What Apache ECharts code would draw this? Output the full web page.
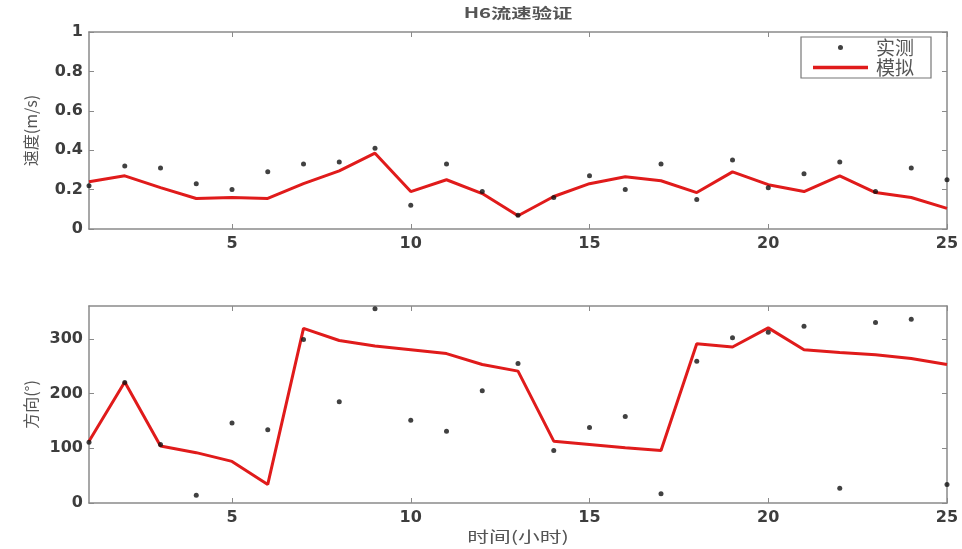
<!DOCTYPE html>
<html>
<head>
<meta charset="utf-8">
<script src="https://cdn.jsdelivr.net/npm/echarts@6/dist/echarts.min.js"></script>
<style>html,body{margin:0;padding:0;background:#fff}#c{width:962px;height:549px}</style>
</head>
<body>
<div id="c"></div>
<script>
const hours = [1,2,3,4,5,6,7,8,9,10,11,12,13,14,15,16,17,18,19,20,21,22,23,24,25];
const speedObs = [0.22,0.32,0.31,0.23,0.20,0.29,0.33,0.34,0.41,0.12,0.33,0.19,0.07,0.16,0.27,0.20,0.33,0.15,0.35,0.21,0.28,0.34,0.19,0.31,0.25];
const speedSim = [0.24,0.27,0.21,0.155,0.16,0.155,0.23,0.295,0.385,0.19,0.25,0.18,0.067,0.165,0.23,0.265,0.245,0.185,0.29,0.225,0.19,0.27,0.185,0.16,0.105];
const dirObs = [111,220,107,14,146,134,299,185,355,151,131,205,255,96,138,158,17,259,302,312,323,27,330,336,34];
const dirSim = [113,221,104,92,76,34,319,297,287,280,273,253,241,113,107,101,96,291,285,320,280,275,271,264,253];
const xTicks = [5,10,15,20,25];
const speedTicks = [0,0.2,0.4,0.6,0.8,1];
const dirTicks = [0,100,200,300];

const pairs = (xs, ys) => xs.map((x, i) => [x, ys[i]]);
const gray = '#8a8a8a';
const labelFont = {fontFamily: 'DejaVu Sans, sans-serif', fontWeight: 'bold', fontSize: 16, color: '#3d3d3d'};
const nameFont = {fontFamily: 'Noto Sans CJK SC, sans-serif', fontSize: 16, color: '#555'};
const cjk = 'Noto Sans CJK SC, sans-serif';

function xAx(grid, pos, showLabel) {
  return {
    type: 'value', gridIndex: grid, position: pos, min: 1, max: 25,
    axisLine: {show: true, onZero: false, lineStyle: {color: gray, width: 1.5}},
    axisTick: {show: true, inside: true, length: 5, customValues: xTicks, lineStyle: {color: gray}},
    axisLabel: Object.assign({show: showLabel, customValues: xTicks, margin: 7}, labelFont),
    splitLine: {show: false}
  };
}
function yAx(grid, pos, showLabel, min, max, ticks, fmt, extra) {
  return Object.assign({
    type: 'value', gridIndex: grid, position: pos, min: min, max: max,
    axisLine: {show: true, onZero: false, lineStyle: {color: gray, width: 1.5}},
    axisTick: {show: true, inside: true, length: 5, customValues: ticks, lineStyle: {color: gray}},
    axisLabel: Object.assign({show: showLabel, customValues: ticks, margin: 6, formatter: fmt}, labelFont),
    splitLine: {show: false}
  }, extra || {});
}

const chart = echarts.init(document.getElementById('c'));
chart.setOption({
  animation: false,
  backgroundColor: '#fff',
  graphic: [
    {type: 'text', x: 518, y: 6, scaleX: 1.45,
      style: {text: 'H6流速验证', font: 'bold 14px ' + cjk, fill: '#555', textAlign: 'center', textVerticalAlign: 'top'}},
    {type: 'text', x: 518, y: 529, scaleX: 1.45,
      style: {text: '时间(小时)', font: '15px ' + cjk, fill: '#555', textAlign: 'center', textVerticalAlign: 'top'}}
  ],
  grid: [
    {left: 89, right: 15, top: 32, height: 197},
    {left: 89, right: 15, top: 306, height: 197}
  ],
  legend: {
    right: 31, top: 37, orient: 'vertical',
    padding: [1, 17, 1, 12], itemGap: 1, itemWidth: 55, itemHeight: 5,
    borderColor: '#777', borderWidth: 1.2, backgroundColor: '#fff',
    textStyle: {fontFamily: cjk, fontSize: 19, color: '#555', padding: [0,0,0,3]},
    data: [
      {name: '实测', icon: 'circle'},
      {name: '模拟', icon: 'path://M0,0H55V3.5H0Z'}
    ]
  },
  xAxis: [
    xAx(0, 'bottom', true),
    xAx(0, 'top', false),
    xAx(1, 'bottom', true),
    xAx(1, 'top', false)
  ],
  yAxis: [
    yAx(0, 'left', true, 0, 1, speedTicks, v => (v === 0 || v === 1) ? String(v) : v.toFixed(1),
      {name: '速度(m/s)', nameLocation: 'middle', nameGap: 50, nameTextStyle: nameFont}),
    yAx(0, 'right', false, 0, 1, speedTicks),
    yAx(1, 'left', true, 0, 360, dirTicks, v => String(v),
      {name: '方向(°)', nameLocation: 'middle', nameGap: 50, nameTextStyle: nameFont}),
    yAx(1, 'right', false, 0, 360, dirTicks)
  ],
  series: [
    {name: '模拟', type: 'line', xAxisIndex: 0, yAxisIndex: 0, data: pairs(hours, speedSim),
      symbol: 'none', lineStyle: {color: '#e01b1b', width: 3}, itemStyle: {color: '#e01b1b'}, z: 2},
    {name: '实测', type: 'scatter', xAxisIndex: 0, yAxisIndex: 0, data: pairs(hours, speedObs),
      symbol: 'circle', symbolSize: 5, itemStyle: {color: '#111'}, z: 3},
    {name: '模拟', type: 'line', xAxisIndex: 2, yAxisIndex: 2, data: pairs(hours, dirSim),
      symbol: 'none', lineStyle: {color: '#e01b1b', width: 3}, itemStyle: {color: '#e01b1b'}, z: 2},
    {name: '实测', type: 'scatter', xAxisIndex: 2, yAxisIndex: 2, data: pairs(hours, dirObs),
      symbol: 'circle', symbolSize: 5, itemStyle: {color: '#111'}, z: 3}
  ]
});
</script>
</body>
</html>
